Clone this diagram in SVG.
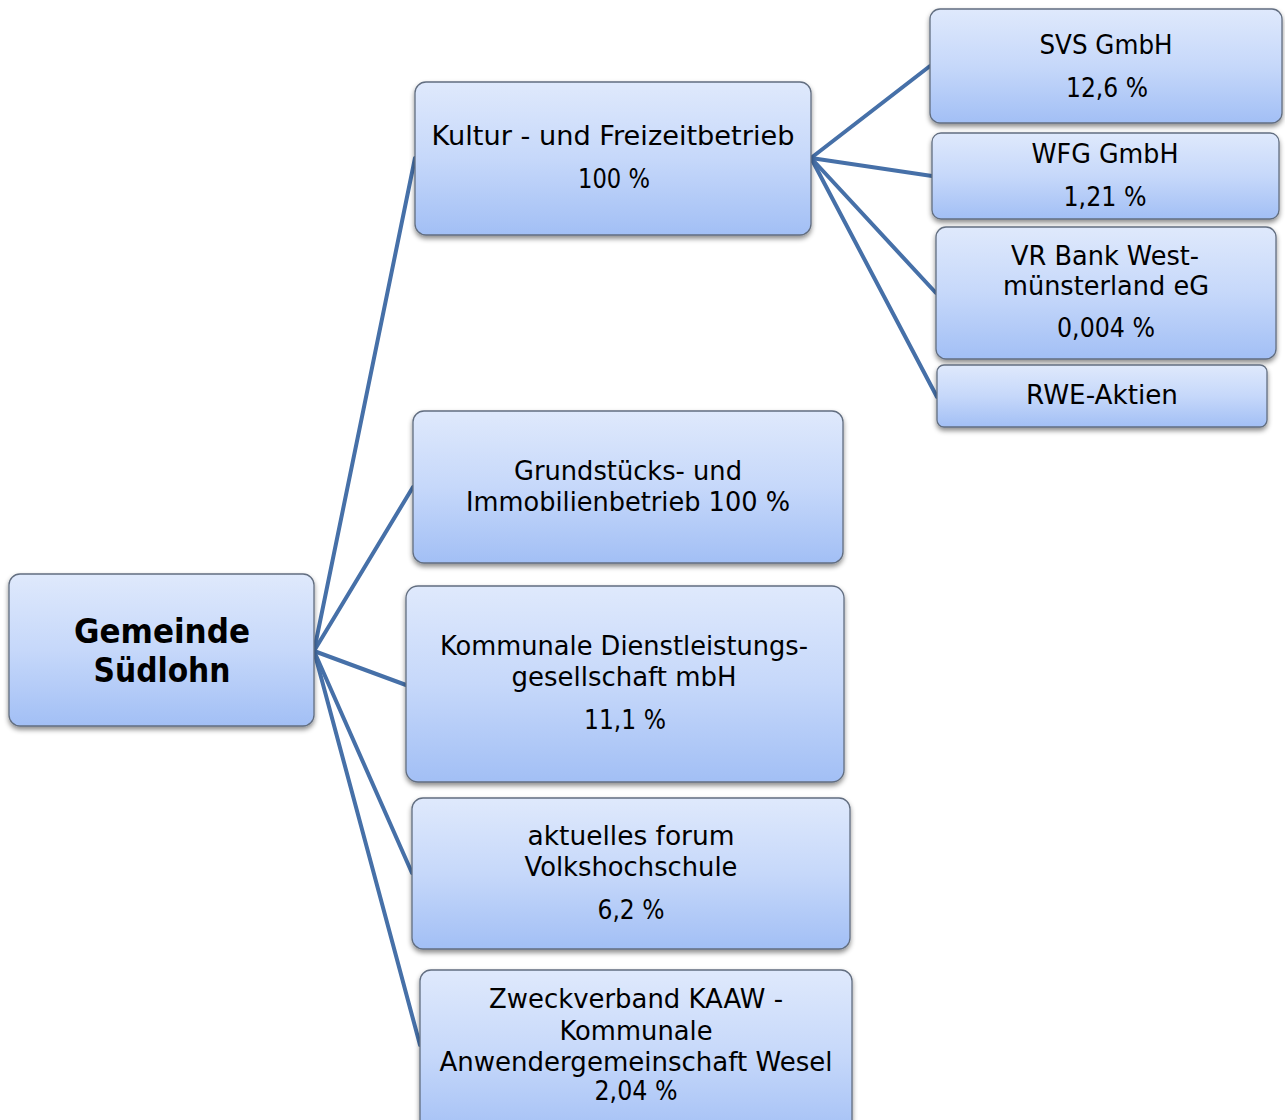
<svg xmlns="http://www.w3.org/2000/svg" width="1285" height="1120" viewBox="0 0 1285 1120">
<defs>
<linearGradient id="g" x1="0" y1="0" x2="0" y2="1">
<stop offset="0" stop-color="#dfe9fc"/>
<stop offset="0.5" stop-color="#c6d8fa"/>
<stop offset="1" stop-color="#a2bff5"/>
</linearGradient>
<filter id="sh" x="-10%" y="-10%" width="120%" height="130%">
<feDropShadow dx="0" dy="3" stdDeviation="2.5" flood-color="#000" flood-opacity="0.45"/>
</filter>
</defs>
<style>
.box{fill:url(#g);stroke:#626e80;stroke-width:1.3;filter:url(#sh)}
.t{font-family:"DejaVu Sans","Noto Sans",sans-serif;font-size:26px;fill:#000;text-anchor:middle}
.b{font-weight:bold;font-size:33px}
.c{fill:none;stroke:#4670a8;stroke-width:4;stroke-linecap:round}
</style>
<rect width="1285" height="1120" fill="#fff"/>
<g id="connectors">
<line class="c" x1="314" y1="651" x2="415" y2="158"/>
<line class="c" x1="314" y1="651" x2="413" y2="487"/>
<line class="c" x1="314" y1="651" x2="406" y2="685"/>
<line class="c" x1="314" y1="651" x2="412" y2="873"/>
<line class="c" x1="314" y1="651" x2="420" y2="1045"/>
<line class="c" x1="811" y1="158" x2="930" y2="66"/>
<line class="c" x1="811" y1="158" x2="932" y2="176"/>
<line class="c" x1="811" y1="158" x2="936" y2="293"/>
<line class="c" x1="811" y1="158" x2="937" y2="397"/>
</g>
<g id="gemeinde">
<rect class="box" x="9" y="574" width="305" height="152" rx="11"/>
<text class="t b" x="162" y="643" textLength="176" lengthAdjust="spacingAndGlyphs">Gemeinde</text>
<text class="t b" x="162" y="682" textLength="137" lengthAdjust="spacingAndGlyphs">Südlohn</text>
</g>
<g id="kultur">
<rect class="box" x="415" y="82" width="396" height="153" rx="11"/>
<text class="t" x="613" y="145" textLength="363" lengthAdjust="spacingAndGlyphs">Kultur - und Freizeitbetrieb</text>
<text class="t" x="614" y="188" textLength="72" lengthAdjust="spacingAndGlyphs">100 %</text>
</g>
<g id="svs">
<rect class="box" x="930" y="9" width="352" height="114" rx="10"/>
<text class="t" x="1106" y="54" textLength="133" lengthAdjust="spacingAndGlyphs">SVS GmbH</text>
<text class="t" x="1107" y="97" textLength="82" lengthAdjust="spacingAndGlyphs">12,6 %</text>
</g>
<g id="wfg">
<rect class="box" x="932" y="133" width="347" height="86" rx="9"/>
<text class="t" x="1105" y="163" textLength="147" lengthAdjust="spacingAndGlyphs">WFG GmbH</text>
<text class="t" x="1105" y="206" textLength="83" lengthAdjust="spacingAndGlyphs">1,21 %</text>
</g>
<g id="vrbank">
<rect class="box" x="936" y="227" width="340" height="132" rx="10"/>
<text class="t" x="1105" y="265" textLength="188" lengthAdjust="spacingAndGlyphs">VR Bank West-</text>
<text class="t" x="1106" y="295" textLength="206" lengthAdjust="spacingAndGlyphs">münsterland eG</text>
<text class="t" x="1106" y="337" textLength="98" lengthAdjust="spacingAndGlyphs">0,004 %</text>
</g>
<g id="rwe">
<rect class="box" x="937" y="365" width="330" height="62" rx="7"/>
<text class="t" x="1102" y="404" textLength="152" lengthAdjust="spacingAndGlyphs">RWE-Aktien</text>
</g>
<g id="grundstuecks">
<rect class="box" x="413" y="411" width="430" height="152" rx="11"/>
<text class="t" x="628" y="480" textLength="228" lengthAdjust="spacingAndGlyphs">Grundstücks- und</text>
<text class="t" x="628" y="511" textLength="324" lengthAdjust="spacingAndGlyphs">Immobilienbetrieb 100 %</text>
</g>
<g id="kommunale">
<rect class="box" x="406" y="586" width="438" height="196" rx="12"/>
<text class="t" x="624" y="655" textLength="368" lengthAdjust="spacingAndGlyphs">Kommunale Dienstleistungs-</text>
<text class="t" x="624" y="686" textLength="225" lengthAdjust="spacingAndGlyphs">gesellschaft mbH</text>
<text class="t" x="625" y="729" textLength="82" lengthAdjust="spacingAndGlyphs">11,1 %</text>
</g>
<g id="vhs">
<rect class="box" x="412" y="798" width="438" height="151" rx="11"/>
<text class="t" x="631" y="845" textLength="207" lengthAdjust="spacingAndGlyphs">aktuelles forum</text>
<text class="t" x="631" y="876" textLength="213" lengthAdjust="spacingAndGlyphs">Volkshochschule</text>
<text class="t" x="631" y="919" textLength="67" lengthAdjust="spacingAndGlyphs">6,2 %</text>
</g>
<g id="kaaw">
<rect class="box" x="420" y="970" width="432" height="170" rx="11"/>
<text class="t" x="636" y="1008" textLength="294" lengthAdjust="spacingAndGlyphs">Zweckverband KAAW -</text>
<text class="t" x="636" y="1040" textLength="153" lengthAdjust="spacingAndGlyphs">Kommunale</text>
<text class="t" x="636" y="1071" textLength="393" lengthAdjust="spacingAndGlyphs">Anwendergemeinschaft Wesel</text>
<text class="t" x="636" y="1100" textLength="83" lengthAdjust="spacingAndGlyphs">2,04 %</text>
</g>
</svg>
